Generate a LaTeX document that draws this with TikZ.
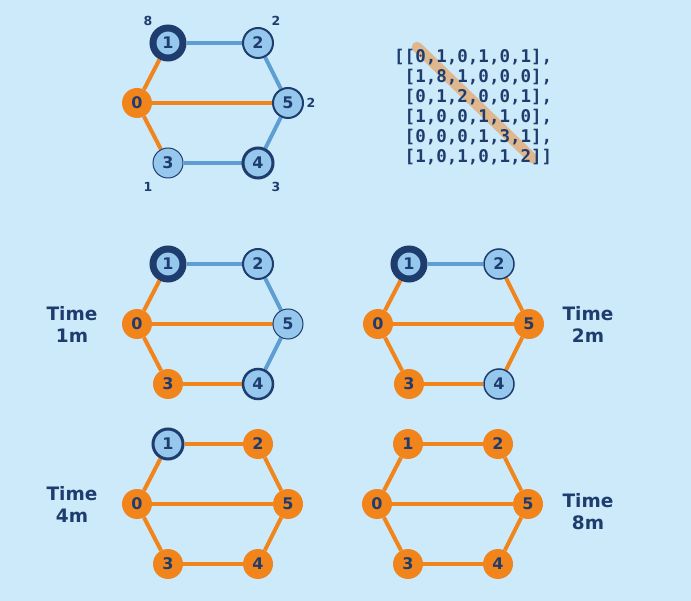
\documentclass[tikz,border=0pt]{standalone}
\usepackage{fontspec}
\setmainfont{DejaVu Sans}
\newfontfamily\monof{DejaVu Sans Mono}
\definecolor{bgc}{RGB}{204,234,250}
\definecolor{navy}{RGB}{31,60,110}
\definecolor{orng}{RGB}{242,132,28}
\definecolor{ltnode}{RGB}{150,200,238}
\definecolor{bedge}{RGB}{94,158,210}
\definecolor{tan}{RGB}{224,182,140}
\pgfdeclarelayer{back}
\pgfdeclarelayer{edges}
\pgfsetlayers{back,edges,main}
\newcommand\hexnodes[8]{%
\begin{scope}[shift={#2}]
\node[#3] (#1-0) at (137,103) {0};
\node[#4] (#1-1) at (168,43) {1};
\node[#5] (#1-2) at (258,43) {2};
\node[#6] (#1-3) at (168,163) {3};
\node[#7] (#1-4) at (258,163) {4};
\node[#8] (#1-5) at (288,103) {5};
\end{scope}}
% edges: prefix, then colours of 0-1, 0-5, 0-3, 1-2, 2-5, 5-4, 3-4
\newcommand\hexedges[8]{%
\begin{pgfonlayer}{edges}
\draw[#2] (#1-0) -- (#1-1);
\draw[#3] (#1-0) -- (#1-5);
\draw[#4] (#1-0) -- (#1-3);
\draw[#5] (#1-1) -- (#1-2);
\draw[#6] (#1-2) -- (#1-5);
\draw[#7] (#1-5) -- (#1-4);
\draw[#8] (#1-3) -- (#1-4);
\end{pgfonlayer}}
\begin{document}
\begin{tikzpicture}[x=1pt,y=-1pt,
  vtx/.style={circle, minimum size=30pt, inner sep=0pt, text=navy,
    font=\bfseries\fontsize{16}{16}\selectfont},
  orn/.style={vtx, fill=orng},
  lt/.style={vtx, fill=ltnode, draw=navy, line width=#1},
  lt/.default=1pt,
  oe/.style={draw=orng, line width=4pt},
  be/.style={draw=bedge, line width=4pt},
  wlab/.style={text=navy, font=\bfseries\fontsize{12.5}{12.5}\selectfont},
  tlab/.style={text=navy, align=center, font=\bfseries\fontsize{18.5}{22}\selectfont},
  mrow/.style={anchor=base west, text=navy, inner sep=0pt, font=\monof\bfseries\fontsize{17.5}{17.5}\selectfont}
]
\begin{pgfonlayer}{back}
\fill[bgc] (0,0) rectangle (691,601);
\end{pgfonlayer}
\useasboundingbox (0,0) rectangle (691,601);

% top graph
\hexnodes{a}{(0,0)}{orn}{lt=7pt}{lt=2pt}{lt=1pt}{lt=3pt}{lt=2pt}
\hexedges{a}{oe}{oe}{oe}{be}{be}{be}{be}
\node[wlab] (w1) at (148,21) {8};
\node[wlab] (w2) at (276,21) {2};
\node[wlab] (w5) at (311,103) {2};
\node[wlab] (w3) at (148,187) {1};
\node[wlab] (w4) at (276,187) {3};

% matrix
\coordinate (d1) at (417,47);
\coordinate (d2) at (532,158);
\draw[tan, line width=10.5pt, line cap=round] (d1) -- (d2);
\node[mrow] (m1) at (394,62.7) {[[0,1,0,1,0,1],};
\node[mrow] (m2) at (394,82.6) {\ [1,8,1,0,0,0],};
\node[mrow] (m3) at (394,102.5) {\ [0,1,2,0,0,1],};
\node[mrow] (m4) at (394,122.4) {\ [1,0,0,1,1,0],};
\node[mrow] (m5) at (394,142.3) {\ [0,0,0,1,3,1],};
\node[mrow] (m6) at (394,162.2) {\ [1,0,1,0,1,2]]};

% time 1m
\hexnodes{b}{(0,221)}{orn}{lt=7pt}{lt=2pt}{orn}{lt=2.5pt}{lt=1pt}
\hexedges{b}{oe}{oe}{oe}{be}{be}{be}{oe}
\node[tlab] (t1) at (72,324) {Time\\1m};

% time 2m
\hexnodes{c}{(241,221)}{orn}{lt=7pt}{lt=1.5pt}{orn}{lt=1.5pt}{orn}
\hexedges{c}{oe}{oe}{oe}{be}{oe}{oe}{oe}
\node[tlab] (t2) at (588,324.5) {Time\\2m};

% time 4m
\hexnodes{d}{(0,401)}{orn}{lt=3pt}{orn}{orn}{orn}{orn}
\hexedges{d}{oe}{oe}{oe}{oe}{oe}{oe}{oe}
\node[tlab] (t4) at (72,504) {Time\\4m};

% time 8m
\hexnodes{e}{(240,401)}{orn}{orn}{orn}{orn}{orn}{orn}
\hexedges{e}{oe}{oe}{oe}{oe}{oe}{oe}{oe}
\node[tlab] (t8) at (588,511.5) {Time\\8m};
\end{tikzpicture}
\end{document}
